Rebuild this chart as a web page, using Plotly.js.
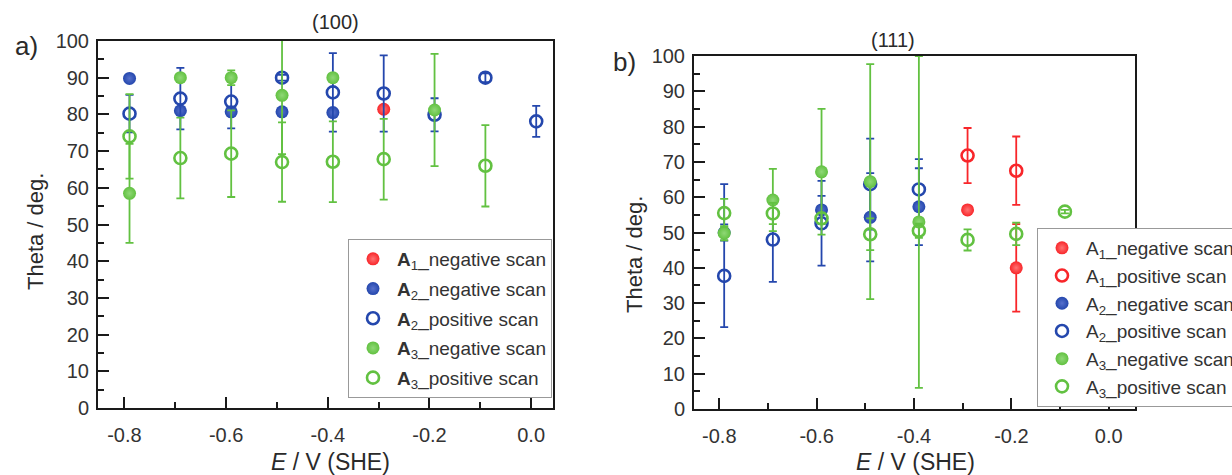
<!DOCTYPE html>
<html>
<head>
<meta charset="utf-8">
<script src="https://cdn.plot.ly/plotly-3.0.1.min.js"></script>
<style>
html,body{margin:0;padding:0;overflow:hidden;background:#fff;}
#chart{width:1260px;height:475px;}
</style>
</head>
<body>
<div id="chart"></div>
<script>
// ---------- data: panel a) (100) ----------
const a_A1neg_x = [-0.29];
const a_A1neg_y = [81.4];
const a_A1neg_e = [0];

const a_A2neg_x = [-0.79, -0.69, -0.59, -0.49, -0.39];
const a_A2neg_y = [89.8, 81.0, 80.7, 80.7, 80.5];
const a_A2neg_e = [0, 0, 0, 0, 0];

const a_A2pos_x = [-0.79, -0.69, -0.59, -0.49, -0.39, -0.29, -0.19, -0.09, 0.01];
const a_A2pos_y = [80.2, 84.3, 83.5, 90.0, 86.0, 85.7, 79.9, 90.0, 78.1];
const a_A2pos_e = [5.1, 8.4, 7.3, 0.8, 10.7, 10.4, 4.5, 1.2, 4.2];

const a_A3neg_x = [-0.79, -0.69, -0.59, -0.49, -0.39, -0.19];
const a_A3neg_y = [58.5, 90.0, 90.0, 85.2, 90.0, 81.2];
const a_A3neg_e = [13.5, 0, 2, 16, 0, 15.3];

const a_A3pos_x = [-0.79, -0.69, -0.59, -0.49, -0.39, -0.29, -0.09];
const a_A3pos_y = [74.0, 68.1, 69.3, 67.0, 67.1, 67.8, 66.0];
const a_A3pos_e = [11.5, 11.0, 11.8, 10.8, 11.0, 11.0, 11.1];

// ---------- data: panel b) (111) ----------
const b_A1neg_x = [-0.29, -0.19];
const b_A1neg_y = [56.4, 40.0];
const b_A1neg_e = [0.8, 12.4];

const b_A1pos_x = [-0.29, -0.19];
const b_A1pos_y = [71.8, 67.5];
const b_A1pos_e = [7.8, 9.7];

const b_A2neg_x = [-0.79, -0.59, -0.49, -0.39];
const b_A2neg_y = [50.0, 56.4, 54.3, 57.3];
const b_A2neg_e = [2.3, 4.0, 12.5, 10.9];

const b_A2pos_x = [-0.79, -0.69, -0.59, -0.49, -0.39];
const b_A2pos_y = [37.7, 48.0, 52.6, 63.7, 62.2];
const b_A2pos_e = [26.0, 12.0, 12.0, 12.9, 8.6];
const b_A2pos_em = [14.5, 12.0, 12.0, 12.9, 8.6];

const b_A3neg_x = [-0.79, -0.69, -0.59, -0.49, -0.39];
const b_A3neg_y = [49.8, 59.2, 67.2, 64.4, 53.0];
const b_A3neg_e = [2.0, 8.8, 17.8, 33.3, 47.0];

const b_A3pos_x = [-0.79, -0.69, -0.59, -0.49, -0.39, -0.29, -0.19, -0.09];
const b_A3pos_y = [55.5, 55.4, 54.0, 49.5, 50.5, 47.9, 49.6, 55.9];
const b_A3pos_e = [4.0, 3.0, 1.5, 4.5, 2.0, 3.0, 3.2, 0.5];

// ---------- tick labels ----------
const xTickVals = [-0.8, -0.6, -0.4, -0.2, 0.0];
const xTickText = ['-0.8', '-0.6', '-0.4', '-0.2', '0.0'];
const yTickVals = [0, 10, 20, 30, 40, 50, 60, 70, 80, 90, 100];
const yTickText = ['0', '10', '20', '30', '40', '50', '60', '70', '80', '90', '100'];

// ---------- styling ----------
const W = 1260, H = 475;
const RED = '#f8262a', BLUE = '#2447ad', GREEN = '#62c141';
const LIGHT = {[RED]: '#ff7272', [BLUE]: '#5670cc', [GREEN]: '#8fd876'};
const FONT = 'Liberation Sans, Arial, Helvetica, sans-serif';

function tr(x, y, e, em, color, filled, name, xa, ya, leg) {
  return {
    type: 'scatter', mode: 'markers', x: x, y: y,
    name: name, xaxis: xa, yaxis: ya, legend: leg,
    legendgroup: leg + name,
    error_y: {type: 'data', symmetric: em ? false : true, array: e, arrayminus: em || e, visible: true,
              color: color, thickness: 1.8, width: 4},
    marker: filled
      ? {symbol: 'circle', size: 13, color: color, line: {width: 0}, gradient: {type: 'radial', color: LIGHT[color]}}
      : {symbol: 'circle-open', size: 12, color: color, line: {width: 2.6, color: color}},
    cliponaxis: true
  };
}
function nm(i, kind, bold) {
  const A = bold ? '<b>A</b>' : 'A';
  return A + '<sub>' + i + '</sub>_' + kind + ' scan';
}

const data = [
  tr(a_A1neg_x, a_A1neg_y, a_A1neg_e, null, RED, true, nm(1, 'negative', true), 'x', 'y', 'legend'),
  tr(a_A2neg_x, a_A2neg_y, a_A2neg_e, null, BLUE, true, nm(2, 'negative', true), 'x', 'y', 'legend'),
  tr(a_A2pos_x, a_A2pos_y, a_A2pos_e, null, BLUE, false, nm(2, 'positive', true), 'x', 'y', 'legend'),
  tr(a_A3neg_x, a_A3neg_y, a_A3neg_e, null, GREEN, true, nm(3, 'negative', true), 'x', 'y', 'legend'),
  tr(a_A3pos_x, a_A3pos_y, a_A3pos_e, null, GREEN, false, nm(3, 'positive', true), 'x', 'y', 'legend'),

  tr(b_A1neg_x, b_A1neg_y, b_A1neg_e, null, RED, true, nm(1, 'negative', false), 'x2', 'y2', 'legend2'),
  tr(b_A1pos_x, b_A1pos_y, b_A1pos_e, null, RED, false, nm(1, 'positive', false), 'x2', 'y2', 'legend2'),
  tr(b_A2neg_x, b_A2neg_y, b_A2neg_e, null, BLUE, true, nm(2, 'negative', false), 'x2', 'y2', 'legend2'),
  tr(b_A2pos_x, b_A2pos_y, b_A2pos_e, b_A2pos_em, BLUE, false, nm(2, 'positive', false), 'x2', 'y2', 'legend2'),
  tr(b_A3neg_x, b_A3neg_y, b_A3neg_e, null, GREEN, true, nm(3, 'negative', false), 'x2', 'y2', 'legend2'),
  tr(b_A3pos_x, b_A3pos_y, b_A3pos_e, null, GREEN, false, nm(3, 'positive', false), 'x2', 'y2', 'legend2')
];

function xax(domain, range) {
  return {
    domain: domain, range: range, tickmode: 'array', tickvals: xTickVals, ticktext: xTickText,
    ticks: 'inside', ticklen: 11, tickwidth: 2, tickcolor: '#1a1a1a',
    minor: {tickmode: 'linear', tick0: -0.9, dtick: 0.2, ticks: 'inside', ticklen: 6, tickwidth: 2, tickcolor: '#1a1a1a'},
    showline: true, linecolor: '#1a1a1a', linewidth: 2, mirror: true,
    showgrid: false, zeroline: false, tickfont: {family: FONT, size: 20, color: '#333'},
    ticklabelstandoff: 8, fixedrange: true
  };
}
function yax(domain, anchor) {
  return {
    domain: domain, range: [0, 100], anchor: anchor, tickmode: 'array', tickvals: yTickVals, ticktext: yTickText,
    ticks: 'inside', ticklen: 11, tickwidth: 2, tickcolor: '#1a1a1a',
    minor: {tickmode: 'linear', tick0: 5, dtick: 10, ticks: 'inside', ticklen: 6, tickwidth: 2, tickcolor: '#1a1a1a'},
    showline: true, linecolor: '#1a1a1a', linewidth: 2, mirror: true,
    showgrid: false, zeroline: false, tickfont: {family: FONT, size: 20, color: '#333'},
    ticklabelstandoff: 3, fixedrange: true
  };
}

function px(x) { return x / W; }
function py(y) { return 1 - y / H; }
function ann(text, x, y, size, angle) {
  return {text: text, x: px(x), y: py(y), xref: 'paper', yref: 'paper', xanchor: 'center', yanchor: 'middle',
          showarrow: false, textangle: angle || 0, font: {family: FONT, size: size, color: '#2a2a2a'}};
}

const layout = {
  width: W, height: H,
  margin: {l: 0, r: 0, t: 0, b: 0},
  paper_bgcolor: '#fff', plot_bgcolor: '#fff',
  font: {family: FONT, color: '#333'},
  showlegend: true,
  xaxis: Object.assign(xax([px(98), px(553)], [-0.852, 0.043]), {anchor: 'y'}),
  yaxis: yax([py(408), py(41)], 'x'),
  xaxis2: Object.assign(xax([px(694), px(1135)], [-0.852, 0.054]), {anchor: 'y2'}),
  yaxis2: yax([py(409), py(56)], 'x2'),
  legend: {
    x: px(348), y: py(239), xanchor: 'left', yanchor: 'top',
    bgcolor: '#fff', bordercolor: '#999', borderwidth: 1,
    font: {family: FONT, size: 19, color: '#333'},
    traceorder: 'grouped', tracegroupgap: 2, itemwidth: 38
  },
  legend2: {
    x: px(1037), y: py(228), xanchor: 'left', yanchor: 'top',
    bgcolor: '#fff', bordercolor: '#999', borderwidth: 1,
    font: {family: FONT, size: 19, color: '#333'},
    traceorder: 'grouped', tracegroupgap: 0, itemwidth: 38
  },
  annotations: [
    ann('(100)', 335, 22, 20),
    ann('(111)', 893, 40, 20),
    ann('a)', 26, 46, 26),
    ann('b)', 624, 62, 26),
    ann('Theta / deg.', 36, 232, 22, -90),
    ann('Theta / deg.', 634, 255, 22, -90),
    ann('<i>E</i> / V (SHE)', 330, 462, 23),
    ann('<i>E</i> / V (SHE)', 915, 462, 23)
  ]
};

Plotly.newPlot('chart', data, layout, {displayModeBar: false, staticPlot: true});
</script>
</body>
</html>
